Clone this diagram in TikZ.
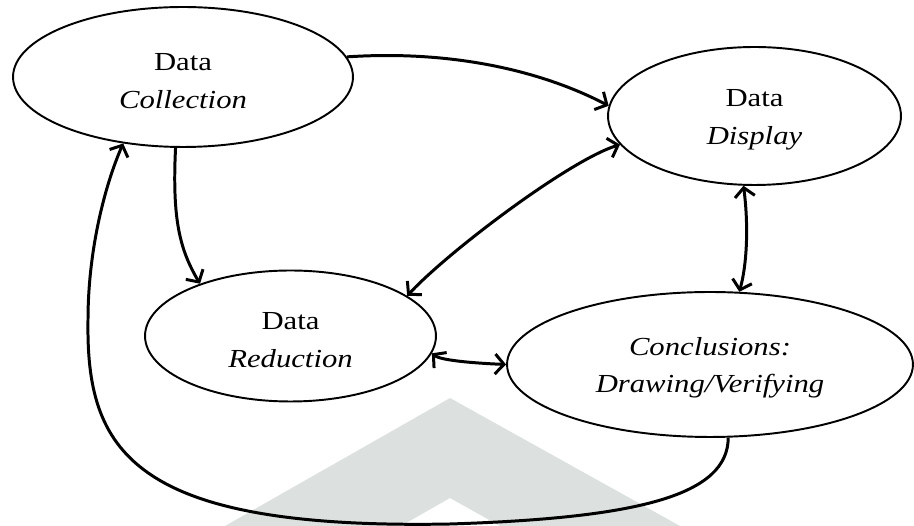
\documentclass[tikz,border=0pt]{standalone}
\usepackage{fontspec}
\setmainfont[FakeStretch=1.18]{Liberation Serif}
\usetikzlibrary{arrows.meta,shapes.geometric}

\def\tp{\rule{0pt}{14pt}}

\begin{document}
\begin{tikzpicture}[>={Straight Barb[length=1.8mm,width=4mm]},x=0.02cm,y=-0.02cm,
	stage/.style={ellipse,draw,line width=1.1pt,fill=white,inner sep=0pt,align=center,
		font=\fontsize{14.8}{21.6}\selectfont},
	flow/.style={line width=1.7pt}]

\definecolor{wmgray}{RGB}{220,224,223}
\useasboundingbox (0,0) rectangle (914,526);

% watermark
\fill[color=wmgray] (225,526) -- (450,398) -- (680,526) -- (500,526) -- (450,498) -- (401,526) -- cycle;

\node[stage] (coll) at (183,77)    [minimum width=6.8cm, minimum height=2.8cm]  {\tp Data\\\textit{Collection}};
\node[stage] (disp) at (754.5,116) [minimum width=5.86cm,minimum height=2.76cm] {\tp Data\\\textit{Display}};
\node[stage] (red)  at (290.5,336) [minimum width=5.82cm,minimum height=2.62cm] {\tp Data\\\textit{Reduction}};
\node[stage] (concl) at (710,364.5)[minimum width=8.12cm,minimum height=2.9cm]  {\tp\textit{Conclusions:}\\\textit{Drawing/Verifying}};

\draw[flow,->] (coll.7) .. controls (450,50) and (540,70) .. (disp.176);
\draw[flow,->] (coll.-96) .. controls (172,220) and (180,250) .. (red.150);
\draw[flow,<->] (red.19) .. controls (450,250) and (570,160) .. (disp.-168);
\draw[flow,<->] (disp.-99) .. controls (748,220) and (748,260) .. (concl.68);
\draw[flow,<->] (red.-7) .. controls (440,360) and (470,363) .. (concl.180);

\draw[flow,->] (concl.-76) .. controls (728,495) and (640,518) .. (450,524)
	.. controls (130,530) and (86,450) .. (88,320)
	.. controls (88,250) and (105,185) .. (coll.-132);

\end{tikzpicture}
\end{document}
